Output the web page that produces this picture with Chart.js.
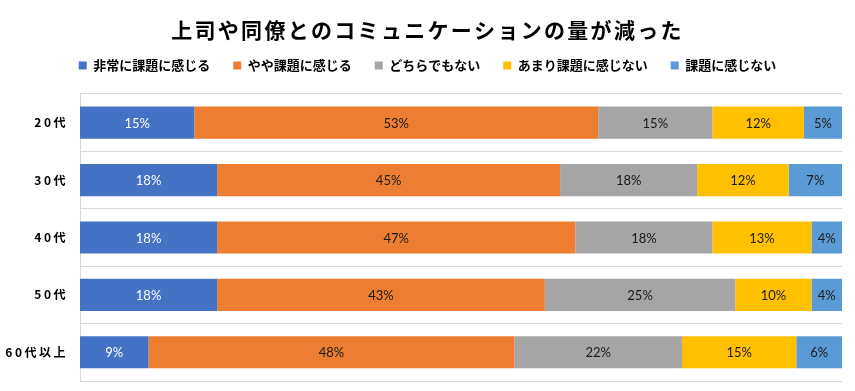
<!DOCTYPE html>
<html lang="ja">

<head>
    <meta charset="UTF-8">
    <title>上司や同僚とのコミュニケーションの量が減った</title>
    <script src="https://cdn.jsdelivr.net/npm/chart.js"></script>
    <style>
        body {
            margin: 0;
            background: #fff;
        }

        .wrap {
            width: 855px;
            height: 391px;
        }
    </style>
</head>

<body>
    <div class="wrap">
        <canvas id="myChart"></canvas>
    </div>
    <script>
        // 年代
        const ageGroups = ['20代', '30代', '40代', '50代', '60代以上'];

        // 回答ごとの割合 (%)
        const strongly = [15, 18, 18, 18, 9];     // 非常に課題に感じる
        const somewhat = [53, 45, 47, 43, 48];    // やや課題に感じる
        const neutral = [15, 18, 18, 25, 22];     // どちらでもない
        const notMuch = [12, 12, 13, 10, 15];     // あまり課題に感じない
        const notAtAll = [5, 7, 4, 4, 6];         // 課題に感じない

        const seriesNames = ['非常に課題に感じる', 'やや課題に感じる', 'どちらでもない', 'あまり課題に感じない', '課題に感じない'];
        const seriesColors = ['#4472C4', '#ED7D31', '#A5A5A5', '#FFC000', '#5B9BD5'];
        const seriesValues = [strongly, somewhat, neutral, notMuch, notAtAll];

        const jpFont = '"Noto Sans CJK JP", "Noto Sans", sans-serif';

        // 文字間隔を広げる (タイトルと年代ラベル)
        function withSpacing(obj, method, chart, spacing) {
            const orig = obj[method];
            obj[method] = function () {
                const c = chart.ctx;
                c.save();
                c.letterSpacing = spacing;
                orig.apply(this, arguments);
                c.restore();
            };
        }

        const textSpacing = {
            id: 'textSpacing',
            beforeInit(chart) {
                // 凡例の下に余白を足す
                const fit = chart.legend.fit;
                chart.legend.fit = function () {
                    fit.apply(this, arguments);
                    this.height += 12;
                };
            },
            beforeDraw(chart) {
                if (chart.titleBlock && !chart.titleBlock._spaced) {
                    withSpacing(chart.titleBlock, 'draw', chart, '2.3px');
                    chart.titleBlock._spaced = true;
                }
                const y = chart.scales.y;
                if (y && !y._spaced) {
                    withSpacing(y, 'drawLabels', chart, '2.5px');
                    y._spaced = true;
                }
            }
        };

        // バーの中央に % を表示
        const barLabels = {
            id: 'barLabels',
            afterDatasetsDraw(chart) {
                const ctx = chart.ctx;
                ctx.save();
                ctx.font = '13px Lato, "Liberation Sans", sans-serif';
                ctx.textAlign = 'center';
                ctx.textBaseline = 'middle';
                chart.data.datasets.forEach((ds, i) => {
                    const meta = chart.getDatasetMeta(i);
                    ctx.fillStyle = i === 0 ? '#ffffff' : '#1a1a1a';
                    meta.data.forEach((bar, j) => {
                        const p = bar.getProps(['x', 'y', 'base'], true);
                        ctx.fillText(ds.data[j] + '%', (p.x + p.base) / 2, p.y + 1);
                    });
                });
                ctx.restore();
            }
        };

        const ctx = document.getElementById('myChart').getContext('2d');
        new Chart(ctx, {
            type: 'bar',
            data: {
                labels: ageGroups,
                datasets: seriesNames.map((name, i) => ({
                    label: name,
                    data: seriesValues[i],
                    backgroundColor: seriesColors[i],
                    borderWidth: 0,
                    categoryPercentage: 1,
                    barPercentage: 0.56
                }))
            },
            options: {
                indexAxis: 'y',
                responsive: true,
                maintainAspectRatio: false,
                animation: false,
                layout: {
                    padding: { left: 0, right: 0, top: 2, bottom: 10 }
                },
                plugins: {
                    title: {
                        display: true,
                        text: '上司や同僚とのコミュニケーションの量が減った',
                        color: '#000',
                        font: { family: jpFont, size: 21, weight: 'bold', lineHeight: 0.571 },
                        padding: { top: 22, bottom: 0 }
                    },
                    legend: {
                        display: true,
                        position: 'top',
                        labels: {
                            color: '#000',
                            font: { family: jpFont, size: 13, weight: 'bold' },
                            boxWidth: 8,
                            boxHeight: 8,
                            padding: 23
                        }
                    },
                    tooltip: { enabled: false }
                },
                scales: {
                    x: {
                        stacked: true,
                        display: false,
                        min: 0,
                        max: 100
                    },
                    y: {
                        stacked: true,
                        grid: {
                            color: '#d9d9d9',
                            drawTicks: false,
                            offset: true
                        },
                        border: { color: '#d9d9d9' },
                        ticks: {
                            color: '#000',
                            padding: 12,
                            font: { family: jpFont, size: 12, weight: 'bold' }
                        },
                        afterFit(scale) {
                            scale.width = 80;
                            scale.paddingTop = 0;
                            scale.paddingBottom = 0;
                        }
                    },
                    // 右側の余白用 (何も描かない)
                    yRight: {
                        type: 'linear',
                        position: 'right',
                        grid: { display: false },
                        border: { display: false },
                        ticks: { display: false },
                        afterFit(scale) {
                            scale.width = 13;
                        }
                    }
                }
            },
            plugins: [textSpacing, barLabels]
        });
    </script>
</body>

</html>
